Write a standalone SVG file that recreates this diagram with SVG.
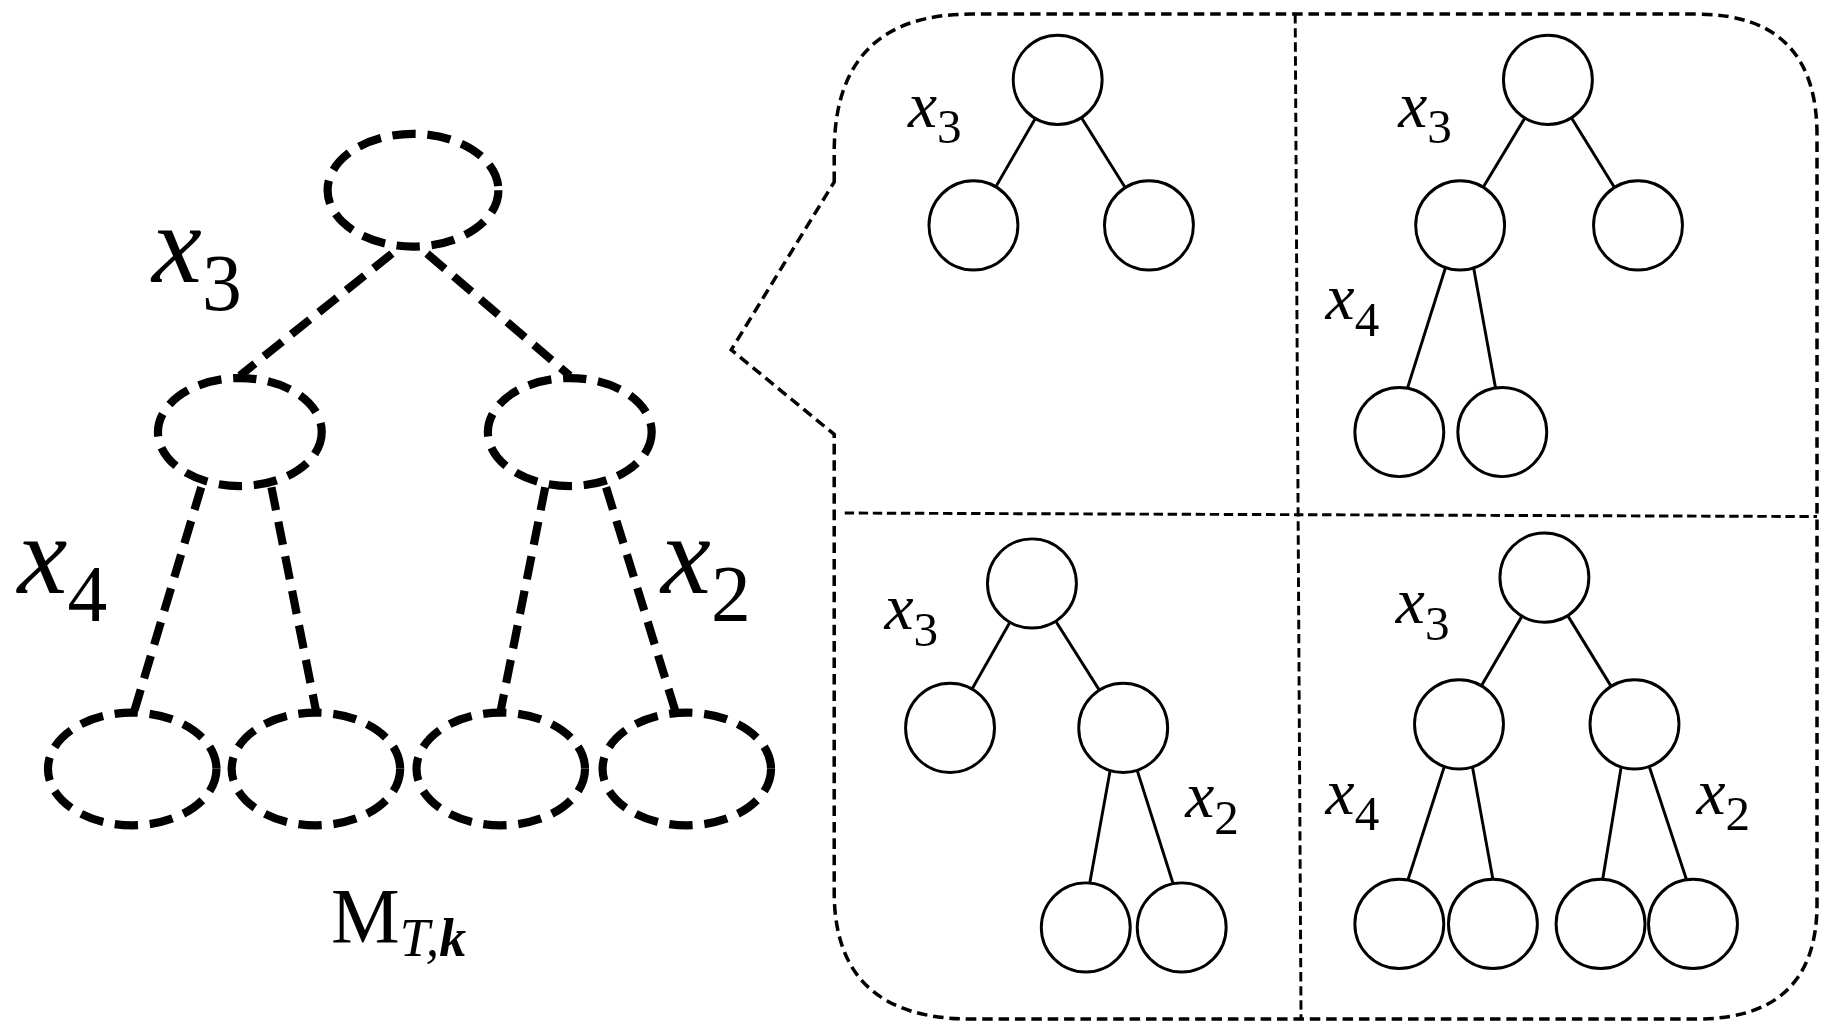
<svg xmlns="http://www.w3.org/2000/svg" width="1831" height="1033" viewBox="0 0 1831 1033">
<style>
.de{fill:#fff;stroke:#000;stroke-width:7;stroke-dasharray:20 10}
.dl{stroke:#000;stroke-width:7;stroke-dasharray:20 10;fill:none}
.c{fill:#fff;stroke:#000;stroke-width:2.5}
.l{stroke:#000;stroke-width:2.5}
.t{font-family:"Liberation Serif",serif;fill:#000}
.x{font-style:italic}
</style>
<rect width="1831" height="1033" fill="#fff"/>
<g transform="scale(1.17,1.174)">
<g id="connectors">
<line class="dl" x1="335" y1="216" x2="205" y2="320"/>
<line class="dl" x1="365" y1="216" x2="487" y2="320"/>
<line class="dl" x1="172" y1="415" x2="115" y2="605"/>
<line class="dl" x1="232" y1="415" x2="270" y2="605"/>
<line class="dl" x1="466" y1="415" x2="428" y2="605"/>
<line class="dl" x1="518" y1="415" x2="577" y2="605"/>
<line class="l" x1="904" y1="68" x2="832" y2="192"/><line class="l" x1="904" y1="68" x2="982" y2="192"/>
<line class="l" x1="1323" y1="68" x2="1248" y2="192"/><line class="l" x1="1323" y1="68" x2="1400" y2="192"/>
<line class="l" x1="1238" y1="220" x2="1200" y2="340"/><line class="l" x1="1258" y1="220" x2="1280" y2="340"/>
<line class="l" x1="882" y1="497" x2="812" y2="620"/><line class="l" x1="882" y1="497" x2="960" y2="620"/>
<line class="l" x1="950" y1="650" x2="930" y2="760"/><line class="l" x1="970" y1="650" x2="1005" y2="760"/>
<line class="l" x1="1320" y1="492" x2="1247" y2="617"/><line class="l" x1="1320" y1="492" x2="1397" y2="617"/>
<line class="l" x1="1237" y1="645" x2="1200" y2="760"/><line class="l" x1="1257" y1="645" x2="1278" y2="760"/>
<line class="l" x1="1387" y1="645" x2="1368" y2="760"/><line class="l" x1="1407" y1="645" x2="1445" y2="760"/>
</g>
<g id="left-tree">
<ellipse class="de" cx="353" cy="162" rx="73" ry="48"/>
<ellipse class="de" cx="205" cy="368" rx="70" ry="46"/>
<ellipse class="de" cx="487" cy="368" rx="70" ry="46"/>
<ellipse class="de" cx="113" cy="655" rx="72" ry="48"/>
<ellipse class="de" cx="270" cy="655" rx="72" ry="48"/>
<ellipse class="de" cx="428" cy="655" rx="72" ry="48"/>
<ellipse class="de" cx="587" cy="655" rx="72" ry="48"/>
<text class="t" x="130" y="240" font-size="96"><tspan class="x">x</tspan><tspan font-size="68" dy="24">3</tspan></text>
<text class="t" x="15" y="505" font-size="96"><tspan class="x">x</tspan><tspan font-size="68" dy="24">4</tspan></text>
<text class="t" x="565" y="505" font-size="96"><tspan class="x">x</tspan><tspan font-size="68" dy="24">2</tspan></text>
<text class="t" x="283" y="802" font-size="66">M<tspan class="x" font-size="46" dy="12">T,</tspan><tspan class="x" font-weight="bold" font-size="46">k</tspan></text>
</g>
<g id="panel">
<path d="M713,155 L713,130 Q713,12 830,12 L1450,12 Q1553,12 1553,115 L1553,770 Q1553,868 1450,868 L830,868 Q713,868 713,760 L713,370 L625,298 L713,155 Z" fill="none" stroke="#000" stroke-width="3" stroke-dasharray="9 5"/>
<line x1="1107" y1="12" x2="1112" y2="868" stroke="#000" stroke-width="2.5" stroke-dasharray="8 4"/>
<line x1="722" y1="437" x2="1553" y2="440" stroke="#000" stroke-width="2.5" stroke-dasharray="8 4"/>
</g>
<g id="q1">
<circle class="c" cx="904" cy="68" r="38"/><circle class="c" cx="832" cy="192" r="38"/><circle class="c" cx="982" cy="192" r="38"/>
<text class="t" x="776" y="108" font-size="56"><tspan class="x">x</tspan><tspan font-size="42" dy="14">3</tspan></text>
</g>
<g id="q2">
<circle class="c" cx="1323" cy="68" r="38"/><circle class="c" cx="1248" cy="192" r="38"/><circle class="c" cx="1400" cy="192" r="38"/>
<circle class="c" cx="1196" cy="368" r="38"/><circle class="c" cx="1284" cy="368" r="38"/>
<text class="t" x="1195" y="108" font-size="56"><tspan class="x">x</tspan><tspan font-size="42" dy="14">3</tspan></text>
<text class="t" x="1133" y="272" font-size="56"><tspan class="x">x</tspan><tspan font-size="42" dy="14">4</tspan></text>
</g>
<g id="q3">
<circle class="c" cx="882" cy="497" r="38"/><circle class="c" cx="812" cy="620" r="38"/><circle class="c" cx="960" cy="620" r="38"/>
<circle class="c" cx="928" cy="790" r="38"/><circle class="c" cx="1010" cy="790" r="38"/>
<text class="t" x="756" y="536" font-size="56"><tspan class="x">x</tspan><tspan font-size="42" dy="14">3</tspan></text>
<text class="t" x="1013" y="696" font-size="56"><tspan class="x">x</tspan><tspan font-size="42" dy="14">2</tspan></text>
</g>
<g id="q4">
<circle class="c" cx="1320" cy="492" r="38"/><circle class="c" cx="1247" cy="617" r="38"/><circle class="c" cx="1397" cy="617" r="38"/>
<circle class="c" cx="1196" cy="787" r="38"/><circle class="c" cx="1276" cy="787" r="38"/><circle class="c" cx="1368" cy="787" r="38"/><circle class="c" cx="1447" cy="787" r="38"/>
<text class="t" x="1193" y="531" font-size="56"><tspan class="x">x</tspan><tspan font-size="42" dy="14">3</tspan></text>
<text class="t" x="1133" y="693" font-size="56"><tspan class="x">x</tspan><tspan font-size="42" dy="14">4</tspan></text>
<text class="t" x="1450" y="693" font-size="56"><tspan class="x">x</tspan><tspan font-size="42" dy="14">2</tspan></text>
</g>
</g>
</svg>
